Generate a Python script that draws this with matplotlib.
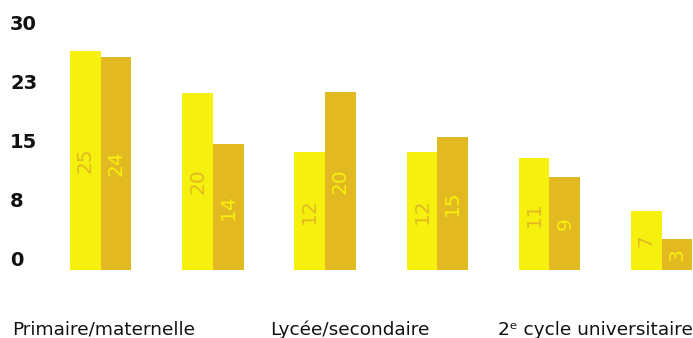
import matplotlib.pyplot as plt
import matplotlib.transforms as mtransforms

# -----------------------------
# Data
# -----------------------------
groups = [0, 1, 2, 3, 4, 5]
series_a = [27.9, 22.5, 15.0, 15.0, 14.2, 7.5]     # bright yellow bars
series_b = [27.1, 16.0, 22.6, 16.9, 11.8, 3.9]     # gold bars
labels_a = ["25", "20", "12", "12", "11", "7"]
labels_b = ["24", "14", "20", "15", "9", "3"]
y_ticks = [0, 7.5, 15, 22.5, 30]
y_tick_labels = ["0", "8", "15", "23", "30"]
x_labels = ["Primaire/maternelle", "Lycée/secondaire", "2ᵉ cycle universitaire"]
x_label_pos = [0.03, 2.22, 4.41]

YELLOW = "#F6F00E"
GOLD = "#E2B921"

plt.rcParams["font.family"] = ["DejaVu Sans"]

fig = plt.figure(figsize=(6.93, 3.38), dpi=100)
ax = fig.add_axes([0, 68 / 338, 1, (270 - 34) / 338])

w = 0.2736
bars_a = ax.bar([g - w / 2 for g in groups], series_a, width=w, color=YELLOW)
bars_b = ax.bar([g + w / 2 for g in groups], series_b, width=w, color=GOLD)

ax.set_xlim(-0.8975, 5.279)
ax.set_ylim(0, 30)
ax.axis("off")

# -----------------------------
# Value labels inside bars
# -----------------------------
for bars, labs, col in [(bars_a, labels_a, GOLD), (bars_b, labels_b, YELLOW)]:
    for bar, lab in zip(bars, labs):
        ax.text(bar.get_x() + bar.get_width() / 2, bar.get_height() / 2, lab,
                rotation=90, ha="center", va="center", color=col,
                fontsize=14.5)

# -----------------------------
# Y tick labels (sit just above their level)
# -----------------------------
ytrans = mtransforms.blended_transform_factory(fig.transFigure, ax.transData)
ytrans = ytrans + mtransforms.ScaledTranslation(0, 4 / 100, fig.dpi_scale_trans)
for v, lab in zip(y_ticks, y_tick_labels):
    ax.text(10 / 693, v, lab, transform=ytrans, ha="left", va="baseline",
            fontsize=14, fontweight="bold", color="#111111")

# -----------------------------
# Category labels
# -----------------------------
xtrans = mtransforms.blended_transform_factory(ax.transData, fig.transFigure)
for x, lab in zip(x_label_pos, x_labels):
    ax.text(x, 3 / 338, lab, transform=xtrans, ha="center", va="baseline",
            fontsize=13.3, color="#111111")

fig.savefig("out.png", dpi=100)
